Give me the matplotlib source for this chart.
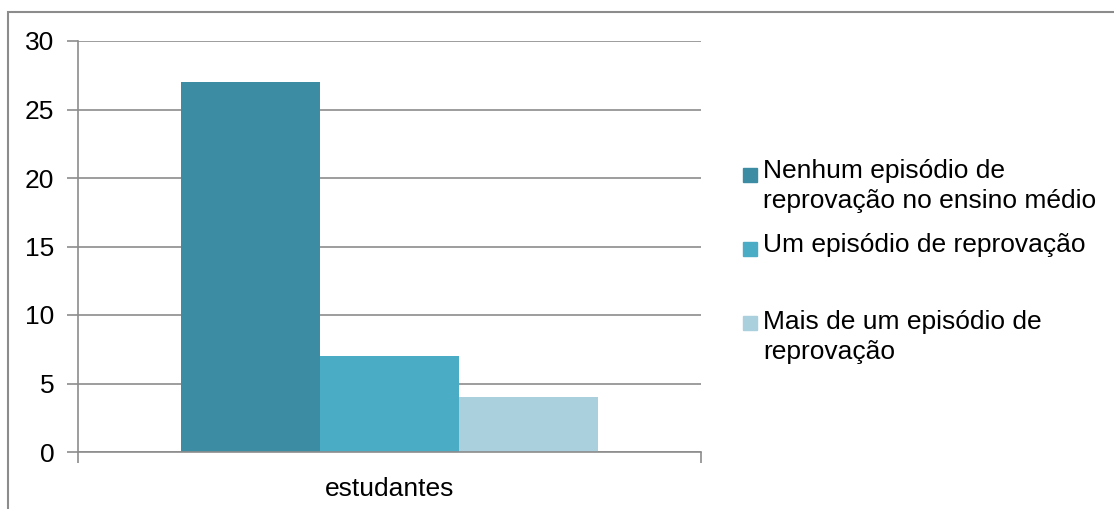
import matplotlib.pyplot as plt
from matplotlib.patches import Rectangle

plt.rcParams['font.family'] = ['Liberation Sans', 'DejaVu Sans']

category = 'estudantes'
series = ['Nenhum episódio de\nreprovação no ensino médio',
          'Um episódio de reprovação',
          'Mais de um episódio de\nreprovação']
values = [27, 7, 4]
colors = ['#3C8CA3', '#4BACC6', '#AACFDD']
yticks = [0, 5, 10, 15, 20, 25, 30]

W, H = 1114, 509
FS = 19
fig = plt.figure(figsize=(W / 100, H / 100), dpi=100)

# outer chart border (cut off at right and bottom like the source)
fig.patches.append(Rectangle((8 / W, -0.1), 1.2, (H - 12) / H + 0.1,
                             transform=fig.transFigure, fill=False,
                             edgecolor='#8c8c8c', linewidth=1.5))

ax = fig.add_axes([78 / W, 1 - 452 / H, (701 - 78) / W, (452 - 41) / H])

bw = 139 / 623
for i, (v, c, s) in enumerate(zip(values, colors, series)):
    ax.bar((i - 1) * bw, v, width=bw, color=c, label=s, zorder=2)

ax.set_xlim(-0.5, 0.5)
ax.set_ylim(0, 30)
ax.set_yticks(yticks)
ax.set_yticklabels([str(t) for t in yticks], fontsize=FS)
ax.yaxis.grid(True, color='#8c8c8c', linewidth=1.2, zorder=0)
ax.tick_params(axis='y', length=8, color='#8c8c8c', width=1.2, pad=9)

ax.set_xticks([-0.5, 0.5])
ax.set_xticklabels(['', ''])
ax.tick_params(axis='x', length=8, color='#8c8c8c', width=1.2)
ax.text(0, -0.06, category, transform=ax.get_xaxis_transform(),
        ha='center', va='top', fontsize=FS)

for side in ['top', 'right']:
    ax.spines[side].set_visible(False)
for side in ['left', 'bottom']:
    ax.spines[side].set_color('#8c8c8c')
    ax.spines[side].set_linewidth(1.2)
ax.set_axisbelow(True)

# legend placed like the Excel original (uneven spacing)
square_y = [175, 249, 323]
text_top = [159, 233, 310]
for c, s, sy, ty in zip(colors, series, square_y, text_top):
    fig.patches.append(Rectangle((743 / W, 1 - (sy + 7) / H), 14 / W, 14 / H,
                                 transform=fig.transFigure, color=c))
    fig.text(763 / W, 1 - ty / H, s, fontsize=FS, va='top', ha='left',
             linespacing=1.3)

fig.savefig('out.png', dpi=100)
